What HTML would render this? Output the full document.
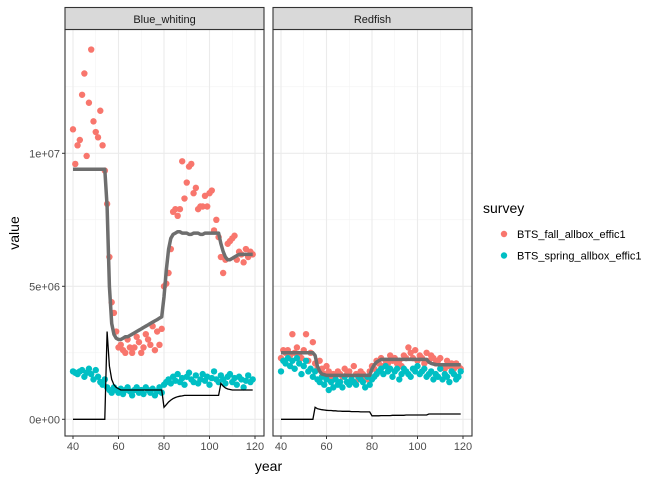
<!DOCTYPE html>
<html><head><meta charset="utf-8"><style>
body{margin:0;background:#fff;font-family:"Liberation Sans",Arial,sans-serif}
</style></head><body>
<svg id="chart" width="672" height="480" xmlns="http://www.w3.org/2000/svg" font-family="Liberation Sans, Arial, sans-serif"></svg>
<script>
const years=[];for(let y=40;y<=119;y++)years.push(y);
const panels=["Blue_whiting","Redfish"];
const seriesNames=["BTS_fall_allbox_effic1","BTS_spring_allbox_effic1"];
const yTicks=[0,5e6,1e7];
const yTickLabels=["0e+00","5e+06","1e+07"];
const xTicks=[40,60,80,100,120];
// values in millions
const bwFall=[10.9,9.6,10.3,10.5,12.2,13.0,9.9,11.9,13.9,11.2,10.8,10.6,11.6,10.3,9.35,8.1,6.1,4.4,4.0,3.3,2.7,2.8,2.6,2.5,3.0,2.7,2.5,2.7,3.1,2.9,2.5,2.7,3.2,3.0,2.8,3.5,2.6,3.3,2.8,3.4,5.0,5.1,5.5,6.4,7.8,7.9,7.65,7.9,9.7,8.3,8.9,9.5,9.6,8.5,8.7,7.9,8.0,8.0,8.4,8.0,8.5,8.6,7.1,7.5,6.85,6.1,5.5,6.0,6.6,6.7,6.8,6.9,6.0,6.3,6.2,5.9,6.4,6.1,6.3,6.2];
const bwSpring=[1.8,1.75,1.7,1.8,1.85,1.6,1.75,1.9,1.7,1.5,1.85,1.6,1.4,1.3,1.5,1.2,1.1,1.0,1.2,1.1,1.0,1.15,0.95,1.1,1.2,1.05,0.9,1.1,1.2,1.0,1.1,0.95,1.2,1.1,1.0,1.15,0.9,1.05,1.2,1.0,1.3,1.4,1.5,1.35,1.6,1.45,1.7,1.4,1.55,1.3,1.6,1.75,1.5,1.4,1.65,1.35,1.5,1.7,1.45,1.6,1.3,1.55,1.8,1.5,1.4,1.65,1.5,1.35,1.6,1.7,1.4,1.55,1.3,1.6,1.5,1.2,1.45,1.65,1.4,1.5];
const bwModel=[9.4,9.4,9.4,9.4,9.4,9.4,9.4,9.4,9.4,9.4,9.4,9.4,9.4,9.4,9.4,8.0,5.0,3.6,3.2,3.05,3.0,3.0,3.05,3.1,3.1,3.15,3.2,3.25,3.3,3.35,3.4,3.45,3.5,3.55,3.6,3.65,3.7,3.75,3.8,3.85,4.6,5.6,6.4,6.8,6.95,7.0,7.05,7.05,7.0,7.0,7.0,6.95,6.95,7.0,7.0,7.0,6.95,6.95,7.0,7.0,7.0,7.0,7.0,7.0,7.0,6.6,6.3,6.1,6.0,6.0,6.05,6.1,6.15,6.2,6.2,6.2,6.2,6.2,6.2,6.2];
const bwCatch=[0,0,0,0,0,0,0,0,0,0,0,0,0,0,0,3.3,2.0,1.5,1.3,1.2,1.15,1.1,1.1,1.1,1.1,1.1,1.1,1.1,1.1,1.1,1.1,1.1,1.1,1.1,1.1,1.1,1.1,1.1,1.1,1.1,0.45,0.55,0.65,0.72,0.78,0.82,0.85,0.87,0.88,0.9,0.9,0.9,0.9,0.9,0.9,0.9,0.9,0.9,0.9,0.9,0.9,0.9,0.9,0.9,0.9,1.35,1.25,1.18,1.14,1.12,1.1,1.1,1.1,1.1,1.1,1.1,1.1,1.1,1.1,1.1];
const rfFall=[2.3,2.6,2.5,2.6,2.4,3.2,2.5,2.7,2.4,2.3,2.6,3.2,2.2,2.5,2.9,2.1,1.9,2.2,1.9,1.7,2.0,1.8,1.6,1.7,1.5,1.8,1.7,1.6,1.9,1.7,1.8,1.6,2.0,1.7,1.5,1.8,1.7,1.6,1.5,1.8,2.0,1.9,2.2,2.1,2.3,2.0,2.2,2.1,2.4,2.2,2.3,2.1,2.2,2.0,2.4,2.3,2.7,2.5,2.3,2.6,2.2,2.4,2.3,2.1,2.5,2.2,2.4,2.3,2.1,2.2,2.3,2.0,1.9,2.2,2.0,2.1,1.9,2.1,2.0,1.9];
const rfSpring=[1.8,2.2,2.1,2.3,2.0,2.2,1.9,2.3,2.1,1.7,2.0,2.2,1.8,1.9,1.6,1.8,1.5,1.4,1.6,1.3,1.5,1.1,1.4,1.2,1.5,1.3,1.4,1.2,1.6,1.4,1.3,1.5,1.4,1.3,1.6,1.5,1.4,1.2,1.6,1.3,1.5,1.6,1.7,1.8,1.9,1.7,2.0,1.8,1.9,1.6,1.8,1.9,1.5,1.7,1.9,1.8,1.7,1.6,1.9,1.8,2.0,1.7,1.8,1.9,1.6,1.7,1.8,1.5,1.7,1.6,1.9,1.5,1.7,1.6,1.4,1.8,1.7,1.5,1.6,1.8];
const rfModel=[2.5,2.5,2.5,2.5,2.5,2.5,2.5,2.5,2.5,2.5,2.5,2.5,2.5,2.5,2.5,2.4,2.0,1.8,1.7,1.68,1.65,1.65,1.65,1.65,1.65,1.65,1.65,1.65,1.65,1.65,1.65,1.65,1.65,1.65,1.65,1.65,1.65,1.65,1.65,1.65,1.9,2.05,2.15,2.2,2.25,2.25,2.25,2.25,2.25,2.25,2.25,2.25,2.25,2.25,2.25,2.25,2.25,2.25,2.25,2.25,2.25,2.25,2.25,2.25,2.25,2.15,2.1,2.08,2.06,2.05,2.05,2.05,2.05,2.05,2.05,2.05,2.05,2.05,2.05,2.05];
const rfCatch=[0,0,0,0,0,0,0,0,0,0,0,0,0,0,0,0.45,0.4,0.38,0.36,0.35,0.34,0.33,0.33,0.32,0.32,0.31,0.31,0.3,0.3,0.3,0.3,0.29,0.29,0.29,0.29,0.28,0.28,0.28,0.28,0.28,0.13,0.13,0.13,0.13,0.14,0.14,0.14,0.14,0.14,0.15,0.15,0.15,0.15,0.15,0.15,0.16,0.16,0.16,0.16,0.16,0.16,0.16,0.16,0.16,0.16,0.2,0.2,0.2,0.2,0.2,0.2,0.2,0.2,0.2,0.2,0.2,0.2,0.2,0.2,0.2];
const panelData=[[bwFall,bwSpring,bwModel,bwCatch],[rfFall,rfSpring,rfModel,rfCatch]];
const colors=["#F8766D","#00BFC4"];
const NS="http://www.w3.org/2000/svg";
const svg=document.getElementById('chart');
function mk(tag,attrs,parent){const e=document.createElementNS(NS,tag);for(const k in attrs)e.setAttribute(k,attrs[k]);(parent||svg).appendChild(e);return e;}
const plotTop=29.5,plotBottom=436,pw=199;
const lefts=[65,273];
function yPix(v){return 419.3-v/1e6*26.6;}
function xPix(p,yr){return lefts[p]+8+(yr-40)*(182/80);}
panels.forEach((name,p)=>{
  const g=mk('g',{});
  
  
  const L=lefts[p];
  mk('rect',{x:L,y:plotTop,width:pw,height:plotBottom-plotTop,fill:'#fff'},g);
  for(let yr=50;yr<=110;yr+=20)mk('line',{x1:xPix(p,yr),x2:xPix(p,yr),y1:plotTop,y2:plotBottom,stroke:'#f2f2f2','stroke-width':0.55},g);
  [2.5e6,7.5e6,1.25e7].forEach(v=>mk('line',{x1:L,x2:L+pw,y1:yPix(v),y2:yPix(v),stroke:'#f2f2f2','stroke-width':0.55},g));
  xTicks.forEach(t=>mk('line',{x1:xPix(p,t),x2:xPix(p,t),y1:plotTop,y2:plotBottom,stroke:'#ebebeb','stroke-width':1.1},g));
  yTicks.forEach(t=>mk('line',{x1:L,x2:L+pw,y1:yPix(t),y2:yPix(t),stroke:'#ebebeb','stroke-width':1.1},g));
  const d=panelData[p];
  [0,1].forEach(s=>{d[s].forEach((v,i)=>{const c=mk('circle',{cx:xPix(p,years[i]),cy:yPix(v*1e6),r:3.2,fill:colors[s]},g);
    
    });});
  const pts=a=>a.map((v,i)=>xPix(p,years[i]).toFixed(1)+','+yPix(v*1e6).toFixed(1)).join(' ');
  const m=mk('polyline',{points:pts(d[2]),fill:'none',stroke:'#6e6e6e','stroke-width':3.5,'stroke-linejoin':'round'},g);
  
  
  const c=mk('polyline',{points:pts(d[3]),fill:'none',stroke:'#000','stroke-width':1.3},g);
  
  
  mk('rect',{x:L,y:plotTop,width:pw,height:plotBottom-plotTop,fill:'none',stroke:'#333','stroke-width':1.1},g);
  const st=mk('rect',{x:L,y:7.5,width:pw,height:22,fill:'#d9d9d9',stroke:'#333','stroke-width':1.1},g);
  
  
  const tt=mk('text',{x:L+pw/2,y:23,'text-anchor':'middle','font-size':11,fill:'#1a1a1a'},g);tt.textContent=name;
  xTicks.forEach(t=>{mk('line',{x1:xPix(p,t),x2:xPix(p,t),y1:plotBottom,y2:plotBottom+3,stroke:'#333'},g);
    const l=mk('text',{x:xPix(p,t),y:plotBottom+14,'text-anchor':'middle','font-size':11,fill:'#4d4d4d'},g);l.textContent=t;
    });
});
yTicks.forEach((t,i)=>{mk('line',{x1:62,x2:65,y1:yPix(t),y2:yPix(t),stroke:'#333'});
  const l=mk('text',{x:60,y:yPix(t)+4,'text-anchor':'end','font-size':11,fill:'#4d4d4d'});l.textContent=yTickLabels[i];
  });
const xt=mk('text',{x:268.5,y:471,'text-anchor':'middle','font-size':14,fill:'#000'});xt.textContent='year';

const yt=mk('text',{x:19,y:233,'text-anchor':'middle','font-size':14,fill:'#000',transform:'rotate(-90 19 233)'});yt.textContent='value';

const lg=mk('g',{});

const ltitle=mk('text',{x:483,y:213,'font-size':14,fill:'#000'},lg);ltitle.textContent='survey';
seriesNames.forEach((n,i)=>{const y=234+i*21.5;
  const e=mk('g',{},lg);
  
  mk('circle',{cx:504,cy:y,r:3.2,fill:colors[i]},e);
  const t=mk('text',{x:517,y:y+4,'font-size':11,fill:'#000'},e);t.textContent=n;});
</script>
</body></html>
